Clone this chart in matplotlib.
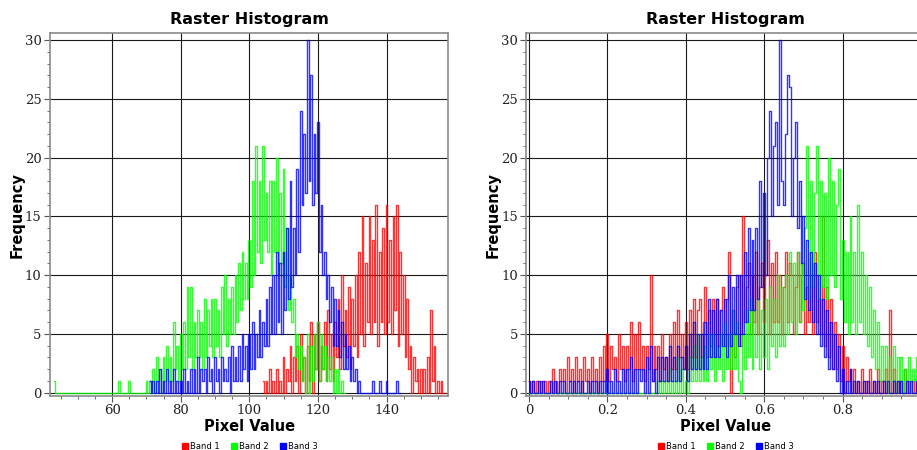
import matplotlib
matplotlib.use("Agg")
import matplotlib.pyplot as plt
from matplotlib.ticker import MultipleLocator
from matplotlib.lines import Line2D
import numpy as np

# ---------------- Left chart data (bin width 0.5) ----------------
left_bin = 0.5
left_red_start = 104.0
left_red = [1,0, 1,0, 2,0, 1,0, 2,0, 1,0, 3,0, 2,1, 4,0, 3,1, 4,0, 5,1, 3,0, 4,1, 6,0, 5,2,
            6,1, 4,2, 6,1, 7,2, 5,1, 6,3, 8,2, 10,4, 7,3, 9,2, 8,4, 10,3, 12,5, 15,4, 11,6,
            15,5, 13,6, 16,4, 12,6, 14,5, 16,6, 13,5, 15,7, 16,4, 12,5, 10,3, 8,2, 4,0,
            3,1, 2,0, 2,0, 2,0, 3,0, 7,1, 4,0, 1,0, 1,0, 0]
left_green_start = 43.0
left_green = [1,0,
              0,0, 0,0, 0,0, 0,0, 0,0, 0,0, 0,0, 0,0, 0,0, 0,0, 0,0, 0,0, 0,0, 0,0, 0,0, 0,0, 0,0, 0,0,
              1,0, 0,0, 0,0, 1,0, 0,0, 0,0, 0,0, 0,0, 1,0,
              1,0, 2,0, 3,1, 2,0, 3,1, 4,1, 3,1, 6,2, 4,1, 5,2, 6,2, 9,3, 9,2, 6,3, 7,3, 6,2,
              8,3, 7,4, 8,3, 8,4, 7,3, 9,5, 10,4, 8,5, 9,5, 10,6, 11,7, 12,8, 11,8, 13,9,
              18,10, 21,12, 18,11, 21,13, 17,12, 18,10, 18,12, 20,10, 17,11, 19,9, 14,7,
              10,6, 8,3, 5,2, 4,1, 3,0, 5,0, 4,1, 5,2, 6,1, 5,2, 4,1, 3,1, 3,0, 2,0, 2,0, 1,0, 0]
left_blue_start = 71.0
left_blue = [1,0, 1,0, 1,0, 2,0, 1,0, 2,0, 1,0, 2,0, 1,0, 1,0, 2,0, 1,0, 2,0, 2,0, 3,0,
             2,1, 2,0, 3,1, 2,0, 3,1, 2,0, 3,1, 2,1, 3,0, 4,1, 3,1, 4,1, 5,2, 4,1, 5,2,
             6,2, 5,3, 7,3, 6,4, 8,4, 9,5, 10,5, 12,6, 11,5, 12,7, 14,8, 18,9, 14,10,
             19,12, 24,16, 22,17, 30,18, 27,16, 22,17, 23,12, 16,10, 12,8, 10,6, 9,4, 8,4,
             7,3, 6,2, 5,2, 4,1, 3,1, 2,0, 1,0, 0,0, 0,0, 0,0, 1,0, 0,0, 1,0, 0,0, 1,0,
             0,0, 0,0, 1,0, 0]

# ---------------- Right chart data (bin width 0.005, 0..1) ----------------
right_bin = 0.005
right_red = [1,0,1,0,1,0,1,0,1,0, 1,0,2,0,1,0,2,1,2,0, 3,1,2,0,3,1,2,0,3,1, 2,0,3,1,2,0,3,1,4,1,
             5,1,4,2,3,1,5,2,4,1, 4,2,6,1,5,2,6,2,4,1, 4,2,10,1,4,2,4,1,5,2, 3,1,5,2,6,2,7,3,5,2,
             6,2,7,3,8,3,7,8,3,6, 9,3,7,4,8,3,8,4,7,9, 4,8,12,0,7,3,9,10,4,15, 6,9,11,5,10,6,12,5,9,11,
             6,10,13,5,11,6,12,6,10,5, 9,12,6,11,10,5,9,12,6,10, 11,5,9,6,10,5,12,6,8,5, 15,4,9,3,8,2,6,2,5,1,
             4,0,3,1,2,0,2,0,1,0, 2,0,1,0,2,0,1,0,2,0, 1,0,2,0,7,0,2,0,1,0, 1,0,2,0,1,0,1,0,1,0]
right_green = [0,0,0,0,0,0,0,0,0,0, 0,0,0,0,0,0,0,0,0,0, 0,0,0,0,0,0,0,0,0,0, 0,0,0,0,0,0,0,0,0,0,
               0,0,0,0,0,0,0,0,0,0, 0,0,0,0,0,0,0,0,0,0, 0,0,0,0,0,0,1,0,1,0, 1,0,2,0,1,0,3,0,2,0,
               1,0,3,1,4,1,5,1,3,1, 4,1,5,2,5,1,4,2,5,1, 6,2,5,2,7,2,6,1,0,5, 2,7,3,8,2,7,3,8,2,7,
               3,8,2,9,4,8,3,10,4,9, 4,10,5,12,6,11,5,12,6,11, 7,14,21,8,18,9,17,21,8,18, 9,17,8,20,10,18,9,16,19,8,
               13,6,12,5,15,6,12,5,16,6, 12,5,10,4,9,3,7,2,6,1, 4,1,4,0,3,1,4,0,3,1, 3,0,2,1,3,0,2,1,3,1]
right_blue = [1,0,1,0,0,1,0,1,0,0, 0,1,0,1,0,0,1,0,1,0, 0,1,0,1,0,1,0,1,0,0, 1,0,1,0,1,0,1,0,1,0,
              2,0,1,0,2,0,1,0,2,0, 2,0,3,0,2,0,2,1,2,0, 3,0,4,1,2,0,3,1,3,1, 3,1,4,1,3,1,4,1,3,2,
              4,1,5,2,6,2,5,2,5,2, 6,2,8,3,7,3,8,3,7,4, 8,3,10,4,9,5,10,4,10,5, 12,6,14,7,13,7,14,8,18,9,
              17,10,20,24,15,21,23,16,30,18, 16,22,27,26,15,20,23,14,18,11, 15,8,13,7,12,6,11,5,10,4, 8,3,7,2,6,2,5,1,4,0,
              2,0,1,0,2,0,1,0,1,0, 0,1,0,1,0,0,1,0,1,0, 0,1,0,1,0,0,1,0,1,0, 1,0,0,1,0,1,0,0,1,0]

band_names = ["Band 1", "Band 2", "Band 3"]
band_colors = ["#ff0000", "#00ff00", "#0000ff"]

left_xticks = [60, 80, 100, 120, 140]
right_xticks = [0, 0.2, 0.4, 0.6, 0.8]
yticks = [0, 5, 10, 15, 20, 25, 30]

W, H = 917, 450
fig = plt.figure(figsize=(W / 100, H / 100), dpi=100)

def px_axes(x0, y0, x1, y1):
    return fig.add_axes([x0 / W, 1 - y1 / H, (x1 - x0) / W, (y1 - y0) / H])

ax1 = px_axes(50, 33.3, 448.3, 396)
ax2 = px_axes(526.3, 33.3, 924.6, 396)

def series_x(start, n, step):
    return start + step * np.arange(n)

def style(ax, xlim, xticks, xminor, xfmt):
    ax.set_xlim(*xlim)
    ax.set_ylim(-0.28, 30.57)
    ax.set_xticks(xticks)
    ax.set_xticklabels([xfmt(v) for v in xticks])
    ax.set_yticks(yticks)
    ax.xaxis.set_minor_locator(MultipleLocator(xminor))
    ax.yaxis.set_minor_locator(MultipleLocator(1))
    ax.grid(True, which="major", color="#1a1a1a", linewidth=0.8)
    ax.set_axisbelow(True)
    for s in ax.spines.values():
        s.set_color("#8a8a8a")
        s.set_linewidth(1.2)
    ax.tick_params(which="major", length=4, width=0.8, color="#555555",
                   labelsize=9.5, labelcolor="#222222", pad=2)
    ax.tick_params(which="minor", length=2, width=0.6, color="#555555")
    for lab in ax.get_xticklabels() + ax.get_yticklabels():
        lab.set_family("DejaVu Serif")
    ax.text(0.5, 1.037, "Raster Histogram", transform=ax.transAxes, ha="center", va="center",
            fontsize=11.5, fontweight="bold", family="DejaVu Sans")
    ax.set_xlabel("Pixel Value", fontsize=10.5, fontweight="bold")
    ax.xaxis.set_label_coords(0.5, -0.085)
    ax.xaxis.label.set_va("center")
    ax.set_ylabel("Frequency", fontsize=10.5, fontweight="bold")
    ax.yaxis.set_label_coords(-0.083, 0.5)
    ax.yaxis.label.set_va("center")
    handles = [Line2D([], [], marker="s", linestyle="none", color=c, markersize=4.5) for c in band_colors]
    ax.legend(handles, band_names, loc="center", bbox_to_anchor=(0.5, -0.138), ncol=3,
              frameon=False, fontsize=6, handletextpad=0.1, columnspacing=1.2,
              borderaxespad=0, handlelength=1.0)

# left
for start, vals, c in [(left_red_start, left_red, band_colors[0]),
                       (left_green_start, left_green, band_colors[1]),
                       (left_blue_start, left_blue, band_colors[2])]:
    ax1.plot(series_x(start, len(vals), left_bin), vals, drawstyle="steps-mid",
             color=c, lw=1.0, alpha=0.8)
style(ax1, (41.9, 158.0), left_xticks, 5, lambda v: f"{v:d}")

# right
for vals, c in [(right_red, band_colors[0]), (right_green, band_colors[1]), (right_blue, band_colors[2])]:
    ax2.plot(series_x(0.0, len(vals), right_bin), vals, drawstyle="steps-mid",
             color=c, lw=1.0, alpha=0.8)
style(ax2, (-0.007, 1.009), right_xticks, 0.05, lambda v: "0" if v == 0 else f"{v:.1f}")

fig.savefig("out.png", dpi=100)
